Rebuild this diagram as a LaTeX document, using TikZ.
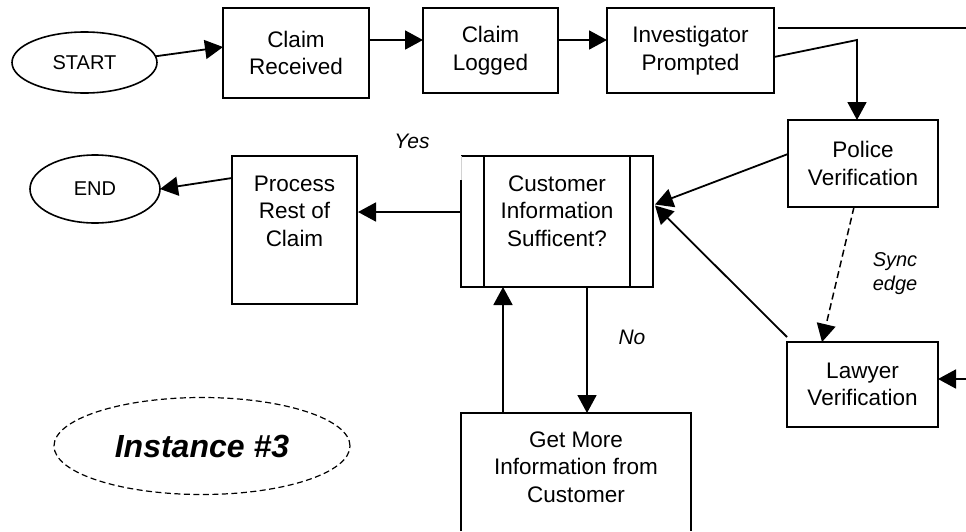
\documentclass[tikz,border=0pt]{standalone}
\usepackage{fontspec}
\setmainfont{Liberation Sans}
\usetikzlibrary{arrows.meta,shapes.geometric,calc}

\begin{document}
\begin{tikzpicture}[x=1pt,y=-1pt,
  line width=1.8pt,
  every node/.style={inner sep=0pt, outer sep=0pt},
  boxtext/.style={font=\fontsize{22.5}{27.5}\selectfont, align=center},
  procbox/.style={draw, rectangle, boxtext},
  terminal/.style={draw, ellipse, font=\fontsize{20}{24}\selectfont, line width=1.6pt},
  flow/.style={-{Triangle[length=18pt,width=19pt]}},
  note/.style={font=\fontsize{21}{25}\selectfont\itshape, align=center},
]
\useasboundingbox (0,0) rectangle (966,531);

% terminals
\node[terminal, minimum width=145pt, minimum height=61pt] (start) at (84.5,62.5) {START};
\node[terminal, minimum width=130pt, minimum height=68pt] (end) at (95,189) {END};

% top row of activities
\node[procbox, minimum width=146pt, minimum height=90pt] (recv) at (296,53) {Claim\\Received};
\node[procbox, minimum width=135pt, minimum height=85pt] (logged) at (490.5,50.5) {Claim\\Logged};
\node[procbox, minimum width=167pt, minimum height=85pt] (inv) at (690.5,50.5) {Investigator\\Prompted};

% verification activities
\node[procbox, minimum width=150pt, minimum height=87pt] (police) at (863,163.5) {Police\\Verification};
\node[procbox, minimum width=151pt, minimum height=85pt] (lawyer) at (862.5,384.5) {Lawyer\\Verification};

% decision (sub-process box with side bars)
\node[rectangle, minimum width=192pt, minimum height=131pt] (cust) at (557,221.5) {};
\node[boxtext] (custtext) at (557,211) {Customer\\Information\\Sufficent?};
\draw (cust.north west) -- (cust.north east) -- (cust.south east) -- (cust.south west)
      -- ($(cust.north west)+(0,24)$);
\draw[gray!35, line width=1pt] ($(cust.north west)+(0,24)$) -- (cust.north west);
\draw ($(cust.north west)+(23,0)$) -- ($(cust.south west)+(23,0)$);
\draw ($(cust.north east)+(-23,0)$) -- ($(cust.south east)+(-23,0)$);

% remaining activities
\node[rectangle, draw, minimum width=125pt, minimum height=148pt] (process) at (294.5,230) {};
\node[boxtext] (processtext) at (294.5,211) {Process\\Rest of\\Claim};

\node[rectangle, minimum width=230pt, minimum height=118pt] (getmore) at (576,472) {};
\node[boxtext] (getmoretext) at (576,467) {Get More\\Information from\\Customer};
\draw (getmore.south west) -- (getmore.north west) -- (getmore.north east) -- (getmore.south east);

% instance label
\node[draw, ellipse, dashed, dash pattern=on 6pt off 3.5pt, line width=1.2pt,
      minimum width=296pt, minimum height=97pt,
      font=\fontsize{32}{36}\selectfont\bfseries\itshape] (inst) at (202,446) {Instance \#3};

% edge labels
\node[note] (yes) at (412,141) {Yes};
\node[note] (no) at (632,337) {No};
\node[note, font=\fontsize{20}{24}\selectfont\itshape] (sync) at (895,274) {Sync\\edge};

% free ends of connectors leaving the picture
\coordinate (outTop) at (966,28);
\coordinate (inRight) at (966,379);
\coordinate (bend) at (857,40);

% connectors
\draw[flow] (start.5) -- ([yshift=6pt]recv.west);
\draw[flow] ([yshift=13pt]recv.east) -- ([yshift=10.5pt]logged.west);
\draw[flow] ([yshift=10.5pt]logged.east) -- ([yshift=10.5pt]inv.west);
\draw ([xshift=4pt,yshift=22.5pt]inv.east) -- (outTop);
\draw[flow] ([yshift=-6.5pt]inv.east) -- (bend) -- (bend |- police.north);
\draw[flow, dashed, dash pattern=on 7pt off 4pt, line width=1.5pt]
     ([xshift=-9pt]police.south) -- ([xshift=-40.5pt]lawyer.north);
\draw[flow] (inRight) -- ([yshift=5.5pt]lawyer.east);
\draw[flow] ([yshift=9.5pt]police.west) -- ([xshift=2pt,yshift=17pt]cust.east);
\draw[flow] ([yshift=5pt]lawyer.north west) -- ([xshift=2pt,yshift=16pt]cust.east);
\draw[flow] ([yshift=9.5pt]cust.west) -- ([xshift=1pt,yshift=9.5pt]cust.west -| process.east);
\draw[flow] ([yshift=52pt]process.west) -- (end.east);
\draw[flow] (cust.south -| 587,0) -- (getmore.north -| 587,0);
\draw[flow] (getmore.north -| 503,0) -- (cust.south -| 503,0);
\end{tikzpicture}
\end{document}
